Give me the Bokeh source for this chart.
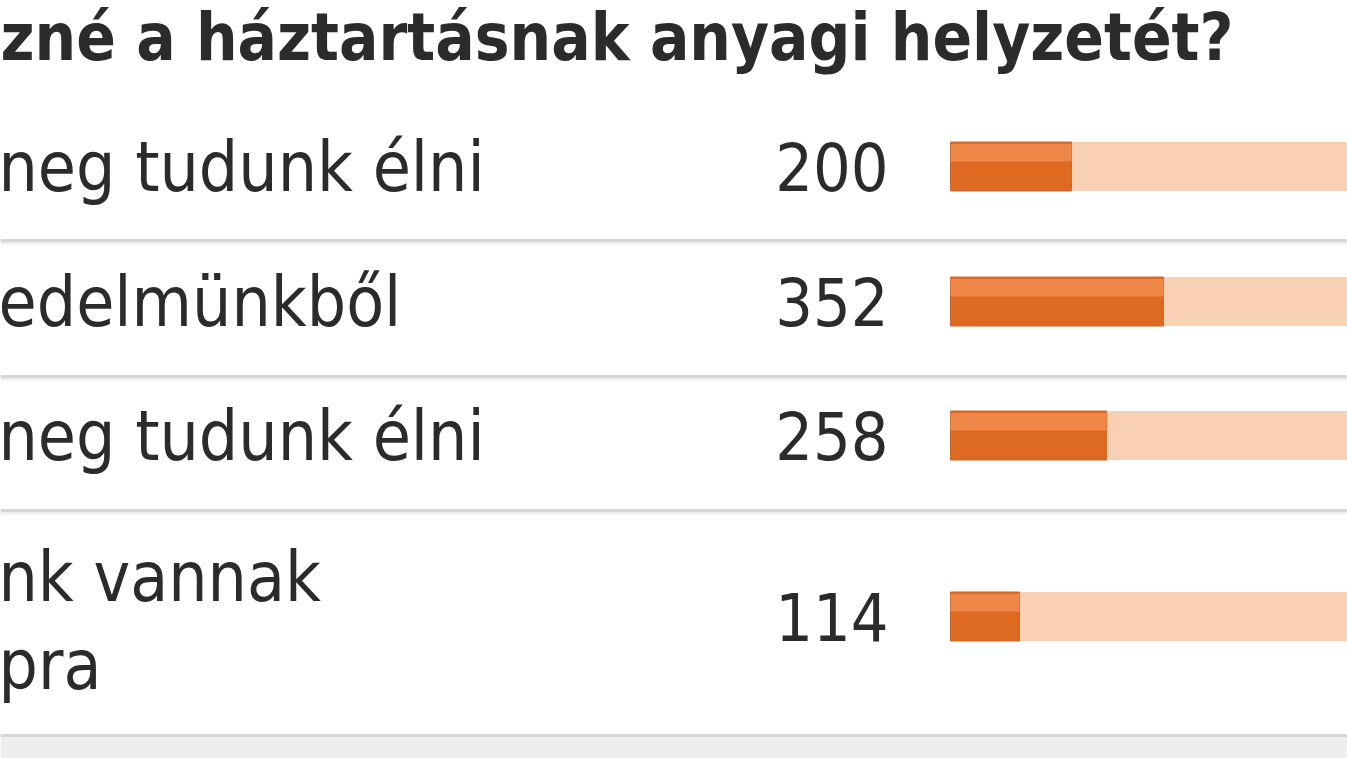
from bokeh.plotting import figure
from bokeh.models import Range1d
from bokeh.embed import file_html
from bokeh.resources import INLINE
from bokeh.core.properties import value

# ---- data (as visible in the cropped reference) ----
title_text = "zné a háztartásnak anyagi helyzetét?"
answers = ["neg tudunk élni", "edelmünkből", "neg tudunk élni", "nk vannak\npra"]
votes = [200, 352, 258, 114]
total_votes = sum(votes)

# ---- layout constants (page pixels) ----
W, H = 1347, 758
FONT = "DejaVu Sans Condensed"
row_y = [166, 301, 435, 616]
sep_y = [240, 376, 510, 735]
bar_h = 49
bar_x0 = 950          # pixel where bars start
px_per_vote = 0.605   # bar scale

p = figure(width=W, height=H, output_backend="svg", toolbar_location=None,
           x_range=Range1d(0, W), y_range=Range1d(H, 0),
           min_border=0, outline_line_color=None, background_fill_color="white",
           border_fill_color="white")
p.axis.visible = False
p.grid.visible = False
p.extra_x_ranges = {"votes": Range1d((0 - bar_x0) / px_per_vote, (W - bar_x0) / px_per_vote)}

# bottom grey band
p.quad(left=0, right=1400, top=738, bottom=760, fill_color="#eeeeee", line_color=None)

# separators
for y in sep_y:
    p.segment(x0=0, x1=1400, y0=y + 2, y1=y + 2, line_color="#eeeeee", line_width=4)
    p.segment(x0=0, x1=1400, y0=y, y1=y, line_color="#d6d6d6", line_width=3)

# title
p.text(x=[0], y=[37], text=[title_text], text_font=value(FONT), text_font_style="bold",
       text_font_size="65px", text_color="#2b2b2b", text_baseline="alphabetic")

# answer labels
for lab, y in zip(answers, row_y):
    lines = lab.split("\n")
    if len(lines) == 1:
        p.text(x=[-2], y=[y], text=[lines[0]], text_font=value(FONT),
               text_font_size="69px", text_color="#2b2b2b", text_baseline="alphabetic")
    else:
        p.text(x=[-2, -2], y=[y - 40, y + 48], text=lines, text_font=value(FONT),
               text_font_size="69px", text_color="#2b2b2b", text_baseline="alphabetic")

# vote counts
p.text(x=[888] * len(votes), y=row_y, text=[str(v) for v in votes],
       text_font=value(FONT), text_font_size="66px", text_color="#2b2b2b",
       text_align="right", text_baseline="alphabetic")

# track
p.hbar(y=row_y, left=0, right=[total_votes] * len(votes), height=bar_h,
       fill_color="#f8d0b3", line_color=None, x_range_name="votes")
# filled bars: dark base + lighter top band
p.hbar(y=row_y, left=0, right=votes, height=bar_h,
       fill_color="#de6a22", line_color="#c9692f", line_width=1, x_range_name="votes")
p.hbar(y=[y - bar_h * 0.28 for y in row_y], left=0, right=votes, height=bar_h * 0.36,
       fill_color="#ef8748", line_color=None, x_range_name="votes")

open("out.html", "w").write(file_html(p, INLINE))
